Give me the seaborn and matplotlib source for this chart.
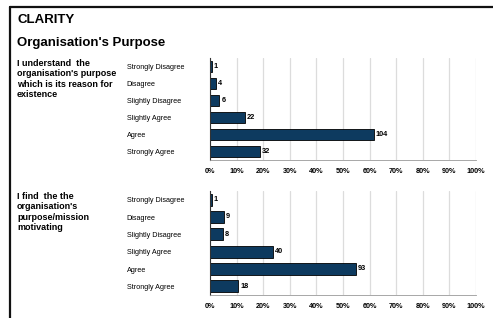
import numpy as np
import pandas as pd
import matplotlib.pyplot as plt
import seaborn as sns
from matplotlib.lines import Line2D

categories = ["Strongly Disagree", "Disagree", "Slightly Disagree",
              "Slightly Agree", "Agree", "Strongly Agree"]
counts_q1 = [1, 4, 6, 22, 104, 32]
counts_q2 = [1, 9, 8, 40, 93, 18]
question_1 = "I understand  the\norganisation's purpose\nwhich is its reason for\nexistence"
question_2 = "I find  the the\norganisation's\npurpose/mission\nmotivating"
x_ticks = list(range(0, 101, 10))

W, H = 493, 318
BAR_COLOR = "#0d3a5f"

sns.set_theme(style="white")
plt.rcParams['font.family'] = ['Liberation Sans', 'DejaVu Sans']
plt.rcParams['text.color'] = 'black'
plt.rcParams['xtick.labelcolor'] = 'black'
plt.rcParams['ytick.labelcolor'] = 'black'


def draw_block(fig, counts, question, top_px, bottom_px):
    left_px, right_px = 210, 476
    ax = fig.add_axes([left_px / W, 1 - bottom_px / H,
                       (right_px - left_px) / W, (bottom_px - top_px) / H])
    df = pd.DataFrame({"category": categories, "count": counts})
    df["percent"] = df["count"] / df["count"].sum() * 100
    sns.barplot(data=df, y="category", x="percent", ax=ax, color=BAR_COLOR,
                saturation=1, width=0.68, edgecolor="black", linewidth=0.6,
                orient="h")
    ax.set_xlim(0, 100)
    ax.set_ylim(5.5, -0.5)
    ax.set_xticks(x_ticks)
    ax.set_xticklabels([f"{t}%" for t in x_ticks], fontsize=5.2, fontweight="bold")
    ax.set_yticks(range(len(categories)))
    ax.set_yticklabels(categories, fontsize=5.2, ha="left")
    ax.tick_params(axis="y", length=0, pad=60)
    ax.tick_params(axis="x", length=2, width=0.6, color="#999999", pad=4, direction="out")
    ax.set_xlabel("")
    ax.set_ylabel("")
    ax.xaxis.grid(True, color="#dcdcdc", linewidth=0.9)
    ax.set_axisbelow(True)
    for s in ["top", "right"]:
        ax.spines[s].set_visible(False)
    ax.spines["left"].set_color("#333333")
    ax.spines["left"].set_linewidth(0.8)
    ax.spines["bottom"].set_color("#999999")
    ax.spines["bottom"].set_linewidth(0.6)
    for i, (p, c) in enumerate(zip(df["percent"], df["count"])):
        ax.text(p + 0.7, i, str(c), va="center", ha="left",
                fontsize=5.3, fontweight="bold", color="black")
    fig.text(17 / W, 1 - (top_px + 1) / H, question, ha="left", va="top",
             fontsize=6.5, fontweight="bold", linespacing=1.2)
    return ax


def main():
    fig = plt.figure(figsize=(W / 100, H / 100), dpi=100)
    fig.patch.set_facecolor("white")

    # frame lines (top and left)
    fig.add_artist(Line2D([10 / W, 1], [1 - 7 / H, 1 - 7 / H], color="#111111", linewidth=1.6))
    fig.add_artist(Line2D([10 / W, 10 / W], [0, 1 - 7 / H], color="#111111", linewidth=1.6))

    fig.text(17 / W, 1 - 20 / H, "CLARITY", ha="left", va="center",
             fontsize=9.5, fontweight="bold")
    fig.text(17 / W, 1 - 43 / H, "Organisation's Purpose", ha="left", va="center",
             fontsize=9.5, fontweight="bold")

    draw_block(fig, counts_q1, question_1, 58, 160)
    draw_block(fig, counts_q2, question_2, 191, 295)

    fig.savefig("out.png", dpi=100)


if __name__ == "__main__":
    main()
